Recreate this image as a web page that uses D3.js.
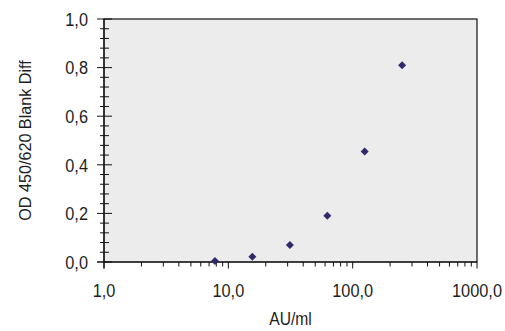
<!DOCTYPE html>
<html><head><meta charset="utf-8">
<script src="https://cdn.jsdelivr.net/npm/d3@7"></script>
<style>
body{margin:0;background:#fff;}
text{font-family:"Liberation Sans",Arial,sans-serif;fill:#1e1e1e;}
</style></head><body>
<svg id="c" width="505" height="331"></svg>
<script>
const concentrations = [7.8, 15.6, 31.25, 62.5, 125, 250];
const odValues = [0.004, 0.022, 0.07, 0.19, 0.455, 0.81];
const xTicks = [1, 10, 100, 1000];
const yTicks = [0, 0.2, 0.4, 0.6, 0.8, 1.0];
const xTitle = "AU/ml";
const yTitle = "OD 450/620 Blank Diff";

const svg = d3.select("#c");
const L = 104, R = 477, T = 19, B = 262;
const x = d3.scaleLog().domain([1, 1000]).range([L, R]);
const y = d3.scaleLinear().domain([0, 1]).range([B, T]);
const fmt = d => d.toFixed(1).replace(".", ",");

svg.append("rect").attr("x", L).attr("y", T).attr("width", R - L).attr("height", B - T)
  .attr("fill", "#ececec").attr("stroke", "#111").attr("stroke-width", 1.2);

// x minor ticks
const xMinor = [];
for (let d = 1; d < 1000; d *= 10) for (let k = 2; k <= 9; k++) xMinor.push(d * k);
svg.append("g").selectAll("line").data(xMinor).join("line")
  .attr("x1", d => x(d)).attr("x2", d => x(d)).attr("y1", B).attr("y2", B + 4.5)
  .attr("stroke", "#111").attr("stroke-width", 1);
svg.append("g").selectAll("line").data(xTicks).join("line")
  .attr("x1", d => x(d)).attr("x2", d => x(d)).attr("y1", B).attr("y2", B + 6.5)
  .attr("stroke", "#111").attr("stroke-width", 1);
svg.append("g").selectAll("g").data(xTicks).join("g")
  .attr("transform", d => `translate(${x(d)},${B + 35}) scale(0.86,1)`)
  .append("text").attr("text-anchor", "middle").attr("font-size", 19).text(fmt);

// y ticks
const yMinor = d3.range(0, 1.0001, 0.04).filter(v => Math.abs(v * 5 - Math.round(v * 5)) > 1e-6);
svg.append("g").selectAll("line").data(yMinor).join("line")
  .attr("x1", L - 4).attr("x2", L + 5).attr("y1", d => y(d)).attr("y2", d => y(d))
  .attr("stroke", "#111").attr("stroke-width", 1);
svg.append("g").selectAll("line").data(yTicks).join("line")
  .attr("x1", L - 7).attr("x2", L + 8).attr("y1", d => y(d)).attr("y2", d => y(d))
  .attr("stroke", "#111").attr("stroke-width", 1);
svg.append("g").selectAll("g").data(yTicks).join("g")
  .attr("transform", d => `translate(${L - 16},${y(d)}) scale(0.86,1)`)
  .append("text").attr("dy", "0.36em").attr("text-anchor", "end")
  .attr("font-size", 19).text(fmt);

// axis lines
svg.append("line").attr("x1", L - 7).attr("x2", R).attr("y1", B).attr("y2", B).attr("stroke", "#111").attr("stroke-width", 1.2);
svg.append("line").attr("x1", L).attr("x2", L).attr("y1", T).attr("y2", B + 6.5).attr("stroke", "#111").attr("stroke-width", 1.2);

// points (square diamonds)
const h = 4;
svg.append("g").selectAll("path").data(concentrations).join("path")
  .attr("transform", (d, i) => `translate(${x(d)},${y(odValues[i])})`)
  .attr("d", `M0,${-h}L${h},0L0,${h}L${-h},0Z`).attr("fill", "#2e2a6b");

svg.append("g").attr("transform", `translate(${(L + R) / 2},325) scale(0.87,1)`)
  .append("text").attr("text-anchor", "middle").attr("font-size", 18).text(xTitle);
svg.append("g").attr("transform", `translate(25,${(T + B) / 2}) rotate(-90) scale(0.95,1)`)
  .append("text").attr("dy", "0.35em").attr("text-anchor", "middle").attr("font-size", 17).text(yTitle);
</script></body></html>
